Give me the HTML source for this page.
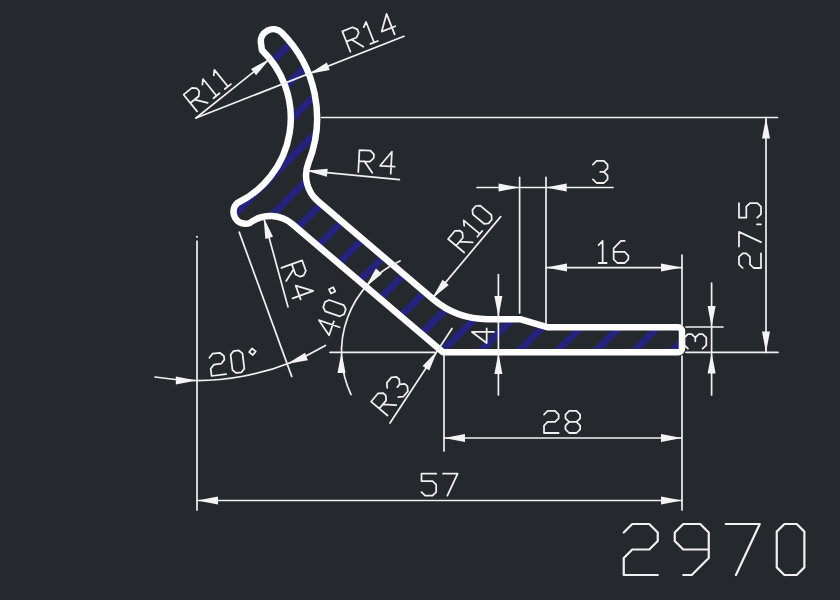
<!DOCTYPE html>
<html><head><meta charset="utf-8"><style>html,body{margin:0;padding:0;background:#25292d;overflow:hidden}svg{display:block}</style></head>
<body><svg width="840" height="600" viewBox="0 0 840 600">
<defs><clipPath id="cp"><path d="M443,352.3 L678,352.3 A4,4 0 0 0 682,348.3 L682,331.3 A4,4 0 0 0 678,327.3 L548,327.3 L520,319.2 L487.66,319.2 A84.5,84.5 0 0 1 432.89,299.05 L318.02,201.28 A34,34 0 0 1 308.48,162.77 A120.6,120.6 0 0 0 281.83,32.78 A12.3,12.3 0 0 0 261.02,43.61 L261.94,50.11 A94.3,94.3 0 0 1 237.42,202.96 A12,12 0 0 0 249.79,223.04 A34,34 0 0 1 293.15,224.77 Z"/></clipPath></defs>
<rect width="840" height="600" fill="#25292d"/>
<g clip-path="url(#cp)"><path d="M-164,0 L-764,600 M-125.7,0 L-725.7,600 M-87.4,0 L-687.4,600 M-49.1,0 L-649.1,600 M-10.8,0 L-610.8,600 M27.5,0 L-572.5,600 M65.8,0 L-534.2,600 M104.1,0 L-495.9,600 M142.4,0 L-457.6,600 M180.7,0 L-419.3,600 M219,0 L-381,600 M257.3,0 L-342.7,600 M295.6,0 L-304.4,600 M333.9,0 L-266.1,600 M372.2,0 L-227.8,600 M410.5,0 L-189.5,600 M448.8,0 L-151.2,600 M487.1,0 L-112.9,600 M525.4,0 L-74.6,600 M563.7,0 L-36.3,600 M602,0 L2,600 M640.3,0 L40.3,600 M678.6,0 L78.6,600 M716.9,0 L116.9,600 M755.2,0 L155.2,600 M793.5,0 L193.5,600 M831.8,0 L231.8,600 M870.1,0 L270.1,600 M908.4,0 L308.4,600 M946.7,0 L346.7,600 M985,0 L385,600 M1023.3,0 L423.3,600 M1061.6,0 L461.6,600 M1099.9,0 L499.9,600 M1138.2,0 L538.2,600 M1176.5,0 L576.5,600 M1214.8,0 L614.8,600 M1253.1,0 L653.1,600 M1291.4,0 L691.4,600 M1329.7,0 L729.7,600 M1368,0 L768,600 M1406.3,0 L806.3,600 M1444.6,0 L844.6,600 M1482.9,0 L882.9,600 M1521.2,0 L921.2,600 M1559.5,0 L959.5,600 M1597.8,0 L997.8,600 M1636.1,0 L1036.1,600 M1674.4,0 L1074.4,600 M1712.7,0 L1112.7,600 M1751,0 L1151,600 M1789.3,0 L1189.3,600 M1827.6,0 L1227.6,600 M1865.9,0 L1265.9,600 M1904.2,0 L1304.2,600 M1942.5,0 L1342.5,600 M1980.8,0 L1380.8,600 M2019.1,0 L1419.1,600 M2057.4,0 L1457.4,600 M2095.7,0 L1495.7,600" stroke="#24247f" stroke-width="7" fill="none"/></g>
<path d="M443,352.3 L678,352.3 A4,4 0 0 0 682,348.3 L682,331.3 A4,4 0 0 0 678,327.3 L548,327.3 L520,319.2 L487.66,319.2 A84.5,84.5 0 0 1 432.89,299.05 L318.02,201.28 A34,34 0 0 1 308.48,162.77 A120.6,120.6 0 0 0 281.83,32.78 A12.3,12.3 0 0 0 261.02,43.61 L261.94,50.11 A94.3,94.3 0 0 1 237.42,202.96 A12,12 0 0 0 249.79,223.04 A34,34 0 0 1 293.15,224.77 Z" fill="none" stroke="#ffffff" stroke-width="6.5" stroke-linejoin="round"/>
<g stroke="#f0f0f0" stroke-width="1.7" fill="none" stroke-linecap="round">
<path d="M321.7,117.5 L777.5,117.5"/>
<path d="M686,352.4 L778,352.4"/>
<path d="M766,117.5 L766,352.4"/>
<path fill="#f4f4f4" stroke="none" d="M766,117.5 L770,138.5 L762,138.5 Z"/>
<path fill="#f4f4f4" stroke="none" d="M766,352.4 L762,331.4 L770,331.4 Z"/>
<path d="M686,327 L723,327"/>
<path d="M711.6,283 L711.6,395"/>
<path fill="#f4f4f4" stroke="none" d="M711.6,327 L707.6,306 L715.6,306 Z"/>
<path fill="#f4f4f4" stroke="none" d="M711.6,352.4 L715.6,373.4 L707.6,373.4 Z"/>
<path d="M682,255 L682,325"/>
<path d="M682,356 L682,510"/>
<path d="M546,267.6 L682,267.6"/>
<path fill="#f4f4f4" stroke="none" d="M546,267.6 L567,263.6 L567,271.6 Z"/>
<path fill="#f4f4f4" stroke="none" d="M682,267.6 L661,271.6 L661,263.6 Z"/>
<path d="M546,177.4 L546,323"/>
<path d="M519.6,177.4 L519.6,313"/>
<path d="M477,187.5 L613,187.5"/>
<path fill="#f4f4f4" stroke="none" d="M519.6,187.5 L498.6,191.5 L498.6,183.5 Z"/>
<path fill="#f4f4f4" stroke="none" d="M545.7,187.5 L566.7,183.5 L566.7,191.5 Z"/>
<path d="M498.4,274.6 L498.4,395"/>
<path fill="#f4f4f4" stroke="none" d="M498.4,317 L494.4,296 L502.4,296 Z"/>
<path fill="#f4f4f4" stroke="none" d="M498.4,353 L502.4,374 L494.4,374 Z"/>
<path d="M444,438 L682,438"/>
<path d="M444,355 L444,451"/>
<path fill="#f4f4f4" stroke="none" d="M444,438 L465,434 L465,442 Z"/>
<path fill="#f4f4f4" stroke="none" d="M682,438 L661,442 L661,434 Z"/>
<path d="M197,500.5 L682,500.5"/>
<path d="M197,241 L197,510"/>
<circle cx="197" cy="236.8" r="1.1" fill="#e0e0e0" stroke="none"/>
<path fill="#f4f4f4" stroke="none" d="M197,500.5 L218,496.5 L218,504.5 Z"/>
<path fill="#f4f4f4" stroke="none" d="M682,500.5 L661,504.5 L661,496.5 Z"/>
<path d="M330,352.3 L435,352.3"/>
<path d="M351.02,394.58 A100,100 0 0 1 400.03,261"/>
<path fill="#f4f4f4" stroke="none" d="M341.5,352 L345.5,373 L337.5,373 Z"/>
<path fill="#f4f4f4" stroke="none" d="M365.35,287.19 L375.91,268.6 L382,273.79 Z"/>
<path d="M154.96,377.02 A253.5,253.5 0 0 0 325.46,345.42"/>
<path fill="#f4f4f4" stroke="none" d="M196.8,380.5 L175.8,384.5 L175.8,376.5 Z"/>
<path fill="#f4f4f4" stroke="none" d="M286.82,363.98 L305.03,352.78 L307.87,360.26 Z"/>
<path d="M239.2,232.1 L291.7,376.4"/>
<path d="M196,118 L269.94,58.84"/>
<path fill="#f4f4f4" stroke="none" d="M269.94,58.84 L256.09,75.13 L251.07,68.9 Z"/>
<path d="M196,118 L404,36.3"/>
<path fill="#f4f4f4" stroke="none" d="M308.75,73.91 L326.84,62.51 L329.76,69.95 Z"/>
<path d="M306.39,170.64 L399.4,179.7"/>
<path fill="#f4f4f4" stroke="none" d="M306.39,170.64 L327.67,168.7 L326.9,176.66 Z"/>
<path d="M263.64,217.61 L288,307"/>
<path fill="#f4f4f4" stroke="none" d="M263.64,217.61 L273.02,236.82 L265.3,238.92 Z"/>
<path d="M432.16,298.42 L500.7,216.6"/>
<path fill="#f4f4f4" stroke="none" d="M432.16,298.42 L442.58,279.75 L448.71,284.89 Z"/>
<path d="M390,423 L452,328.5"/>
<path fill="#f4f4f4" stroke="none" d="M437.4,350.7 L429.23,370.46 L422.54,366.07 Z"/>
</g>
<g stroke="#f0f0f0" fill="none" stroke-linecap="round" stroke-linejoin="round">
<path transform="translate(350.4,51.8) rotate(-21.5) scale(3.67)" d="M0,0 L0,-6 L3,-6 L4,-5 L4,-4 L3,-3 L0,-3 M1.5,-3 L3.8,0 M5.85,-4.9 L6.95,-6 L6.95,0 M5.85,0 L8.05,0 M12.95,0 L12.95,-6 L9.95,-2 L13.95,-2" stroke-width="0.48"/>
<path transform="translate(197.1,111.4) rotate(-38.9) scale(3.58)" d="M0,0 L0,-6 L3,-6 L4,-5 L4,-4 L3,-3 L0,-3 M1.5,-3 L3.8,0 M5.85,-4.9 L6.95,-6 L6.95,0 M5.85,0 L8.05,0 M9.95,-4.9 L11.05,-6 L11.05,0 M9.95,0 L12.15,0" stroke-width="0.49"/>
<path transform="translate(358.3,172) rotate(3) scale(3.67)" d="M0,0 L0,-6 L3,-6 L4,-5 L4,-4 L3,-3 L0,-3 M1.5,-3 L3.8,0 M8.85,0 L8.85,-6 L5.85,-2 L9.85,-2" stroke-width="0.48"/>
<path transform="translate(592.9,183) rotate(0) scale(3.67)" d="M0,-5 L1,-6 L3,-6 L4,-5 L4,-4 L3,-3 L4,-2 L4,-1 L3,0 L1,0 L0,-1 M3,-3 L2,-3" stroke-width="0.48"/>
<path transform="translate(598.6,263) rotate(0) scale(3.67)" d="M0,-4.9 L1.1,-6 L1.1,0 M0,0 L2.2,0 M7.1,-6 L6.1,-6 L4.1,-4 L4.1,-1 L5.1,0 L7.1,0 L8.1,-1 L8.1,-2 L7.1,-3 L4.1,-3" stroke-width="0.48"/>
<path transform="translate(761,268) rotate(-90) scale(3.67)" d="M0,-5 L1,-6 L3,-6 L4,-5 L4,-4 L3,-3 L1,-3 L0,-2 L0,0 L4,0 M5.85,-6 L9.85,-6 L7.05,0 M11.9,0 L11.9,-1.1 M17.7,-6 L13.7,-6 L13.7,-4 L16.7,-4 L17.7,-3 L17.7,-1 L16.7,0 L14.7,0 L13.7,-1" stroke-width="0.48"/>
<path transform="translate(464.2,252.5) rotate(-50.1) scale(3.5)" d="M0,0 L0,-6 L3,-6 L4,-5 L4,-4 L3,-3 L0,-3 M1.5,-3 L3.8,0 M5.85,-4.9 L6.95,-6 L6.95,0 M5.85,0 L8.05,0 M10.85,0 L9.95,-0.9 L9.95,-5.1 L10.85,-6 L12.3,-6 L13.2,-5.1 L13.2,-0.9 L12.3,0 L10.85,0" stroke-width="0.5"/>
<path transform="translate(494,343) rotate(-90) scale(3.67)" d="M3,0 L3,-6 L0,-2 L4,-2" stroke-width="0.48"/>
<path transform="translate(706.3,348.7) rotate(-90) scale(3.67)" d="M0,-5 L1,-6 L3,-6 L4,-5 L4,-4 L3,-3 L4,-2 L4,-1 L3,0 L1,0 L0,-1 M3,-3 L2,-3" stroke-width="0.48"/>
<path transform="translate(281.4,267.9) rotate(70) scale(3.67)" d="M0,0 L0,-6 L3,-6 L4,-5 L4,-4 L3,-3 L0,-3 M1.5,-3 L3.8,0 M8.85,0 L8.85,-6 L5.85,-2 L9.85,-2" stroke-width="0.48"/>
<path transform="translate(336,337.7) rotate(-71) scale(3.67)" d="M3,0 L3,-6 L0,-2 L4,-2 M6.75,0 L5.85,-0.9 L5.85,-5.1 L6.75,-6 L8.2,-6 L9.1,-5.1 L9.1,-0.9 L8.2,0 L6.75,0 M11.85,-4.3 L12.75,-5.2 L11.85,-6.1 L10.95,-5.2 L11.85,-4.3" stroke-width="0.48"/>
<path transform="translate(211.6,376) rotate(-7) scale(3.67)" d="M0,-5 L1,-6 L3,-6 L4,-5 L4,-4 L3,-3 L1,-3 L0,-2 L0,0 L4,0 M6.75,0 L5.85,-0.9 L5.85,-5.1 L6.75,-6 L8.2,-6 L9.1,-5.1 L9.1,-0.9 L8.2,0 L6.75,0 M11.85,-4.3 L12.75,-5.2 L11.85,-6.1 L10.95,-5.2 L11.85,-4.3" stroke-width="0.48"/>
<path transform="translate(387.5,415.5) rotate(-50) scale(3.58)" d="M0,0 L0,-6 L3,-6 L4,-5 L4,-4 L3,-3 L0,-3 M1.5,-3 L3.8,0 M5.85,-5 L6.85,-6 L8.85,-6 L9.85,-5 L9.85,-4 L8.85,-3 L9.85,-2 L9.85,-1 L8.85,0 L6.85,0 L5.85,-1 M8.85,-3 L7.85,-3" stroke-width="0.49"/>
<path transform="translate(544,433) rotate(0) scale(3.67)" d="M0,-5 L1,-6 L3,-6 L4,-5 L4,-4 L3,-3 L1,-3 L0,-2 L0,0 L4,0 M6.85,-3 L5.85,-4 L5.85,-5 L6.85,-6 L8.85,-6 L9.85,-5 L9.85,-4 L8.85,-3 L6.85,-3 L5.85,-2 L5.85,-1 L6.85,0 L8.85,0 L9.85,-1 L9.85,-2 L8.85,-3" stroke-width="0.48"/>
<path transform="translate(421.5,495.7) rotate(0) scale(3.67)" d="M4,-6 L0,-6 L0,-4 L3,-4 L4,-3 L4,-1 L3,0 L1,0 L0,-1 M5.85,-6 L9.85,-6 L7.05,0" stroke-width="0.48"/>
<path transform="translate(623.75,575) rotate(0) scale(8.5)" d="M0,-5 L1,-6 L3,-6 L4,-5 L4,-4 L3,-3 L1,-3 L0,-2 L0,0 L4,0 M10,-3 L7,-3 L6,-4 L6,-5 L7,-6 L9,-6 L10,-5 L10,-2 L8,0 L7,0 M12,-6 L16,-6 L13.2,0 M18.9,0 L18,-0.9 L18,-5.1 L18.9,-6 L20.35,-6 L21.25,-5.1 L21.25,-0.9 L20.35,0 L18.9,0" stroke-width="0.26"/>
</g>
</svg></body></html>
